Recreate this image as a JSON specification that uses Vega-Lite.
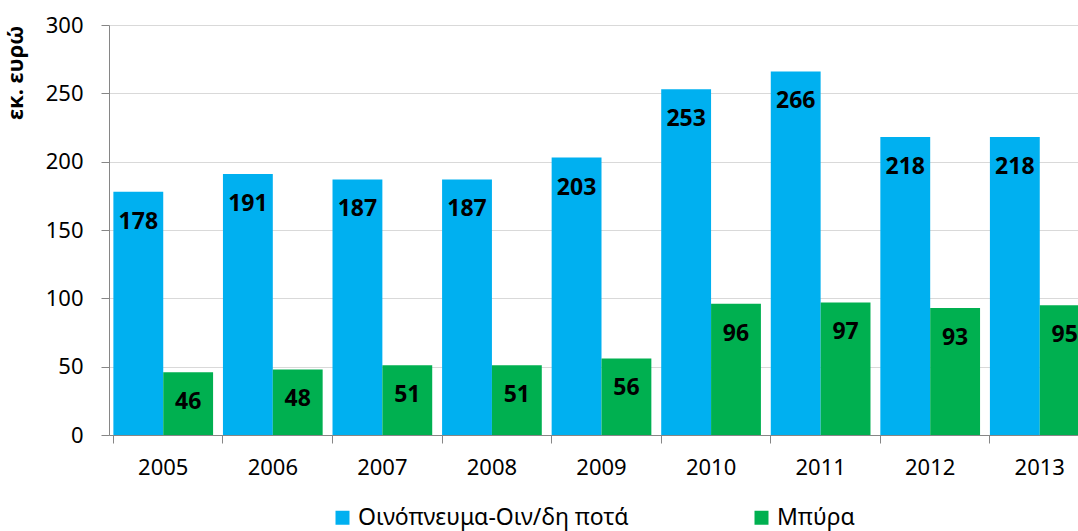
{
  "$schema": "https://vega.github.io/schema/vega-lite/v6.json",
  "autosize": {"type": "none"},
  "padding": {"left": 109, "top": 25, "right": 0, "bottom": 96},
  "width": 985,
  "height": 410,
  "background": "white",
  "config": {
    "font": "Noto Sans",
    "view": {"stroke": null}
  },
  "data": {
    "values": [
      {"year": "2005", "series": "Οινόπνευμα-Οιν/δη ποτά", "value": 178},
      {"year": "2005", "series": "Μπύρα", "value": 46},
      {"year": "2006", "series": "Οινόπνευμα-Οιν/δη ποτά", "value": 191},
      {"year": "2006", "series": "Μπύρα", "value": 48},
      {"year": "2007", "series": "Οινόπνευμα-Οιν/δη ποτά", "value": 187},
      {"year": "2007", "series": "Μπύρα", "value": 51},
      {"year": "2008", "series": "Οινόπνευμα-Οιν/δη ποτά", "value": 187},
      {"year": "2008", "series": "Μπύρα", "value": 51},
      {"year": "2009", "series": "Οινόπνευμα-Οιν/δη ποτά", "value": 203},
      {"year": "2009", "series": "Μπύρα", "value": 56},
      {"year": "2010", "series": "Οινόπνευμα-Οιν/δη ποτά", "value": 253},
      {"year": "2010", "series": "Μπύρα", "value": 96},
      {"year": "2011", "series": "Οινόπνευμα-Οιν/δη ποτά", "value": 266},
      {"year": "2011", "series": "Μπύρα", "value": 97},
      {"year": "2012", "series": "Οινόπνευμα-Οιν/δη ποτά", "value": 218},
      {"year": "2012", "series": "Μπύρα", "value": 93},
      {"year": "2013", "series": "Οινόπνευμα-Οιν/δη ποτά", "value": 218},
      {"year": "2013", "series": "Μπύρα", "value": 95}
    ]
  },
  "encoding": {
    "x": {
      "field": "year", "type": "nominal",
      "scale": {"paddingInner": 0.09, "paddingOuter": 0.04},
      "axis": {
        "title": null, "labelAngle": 0, "labelFontSize": 22, "labelColor": "#000",
        "domainColor": "#868686", "tickColor": "#868686", "tickSize": 8,
        "bandPosition": 0, "labelPadding": 14, "grid": false
      }
    },
    "xOffset": {"field": "series", "type": "nominal", "sort": ["Οινόπνευμα-Οιν/δη ποτά", "Μπύρα"]},
    "y": {
      "field": "value", "type": "quantitative",
      "scale": {"domain": [0, 300]},
      "axis": {
        "title": "εκ. ευρώ", "titleFontSize": 22, "titleFontWeight": "bold", "titleColor": "#000",
        "titleAnchor": "end", "titlePadding": 18,
        "values": [0, 50, 100, 150, 200, 250, 300],
        "labelFontSize": 22, "labelColor": "#000", "labelPadding": 18,
        "domainColor": "#868686", "tickColor": "#868686", "tickSize": 8,
        "gridColor": "#d9d9d9", "grid": true
      }
    }
  },
  "layer": [
    {
      "mark": {"type": "bar"},
      "encoding": {
        "color": {
          "field": "series", "type": "nominal",
          "sort": ["Οινόπνευμα-Οιν/δη ποτά", "Μπύρα"],
          "scale": {"domain": ["Οινόπνευμα-Οιν/δη ποτά", "Μπύρα"], "range": ["#00B0F0", "#00B050"]},
          "legend": {
            "title": null, "orient": "none", "legendX": 222, "legendY": 481, "direction": "horizontal",
            "symbolType": "square", "symbolSize": 196, "symbolStrokeWidth": 0,
            "labelFontSize": 23, "labelColor": "#000", "labelLimit": 500, "columnPadding": 121
          }
        }
      }
    },
    {
      "mark": {"type": "text", "fontWeight": "bold", "fontSize": 23, "dy": 30, "baseline": "middle", "color": "#000"},
      "encoding": {"text": {"field": "value", "type": "quantitative"}}
    }
  ]
}
